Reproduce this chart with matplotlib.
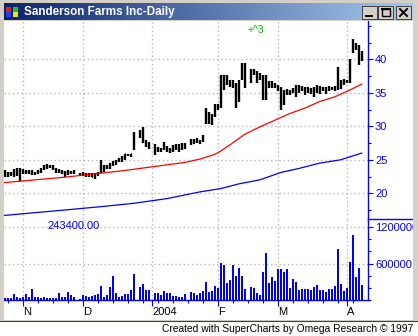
import numpy as np
import pandas as pd
import matplotlib
matplotlib.use('Agg')
import matplotlib.pyplot as plt
from matplotlib.colors import LinearSegmentedColormap
from matplotlib.patches import Rectangle
from matplotlib.ticker import MultipleLocator

plt.rcParams['font.family'] = ['Liberation Sans', 'DejaVu Sans']

W, H = 418, 336  # output size in pixels

# weekdays Oct 24 2003 .. Apr 8 2004; market holidays are None
DATES = pd.bdate_range('2003-10-24', '2004-04-08')

HIGH = [23.5, 23.2, 23.2, 23.6, 23.7, 23.7, 23.6, 23.5, 23.5, 23.5,
        23.2, 23.5, 23.7, 24.2, 24.4, 24.2, 24.2, 23.7, 23.6, 23.5,
        23.4, 23.5, 23.4, 23.5, None, 23.0, 23.2, 23.1, 23.0, 23.1,
        23.0, 23.2, 25.0, 24.2, 24.2, 24.5, 24.8, 25.0, 25.2, 25.5,
        25.9, 25.9, 25.9, 29.2, None, 29.4, 29.9, 27.9, 27.7, None,
        27.3, 26.9, 26.7, 27.6, 27.1, 26.7, 27.2, 27.4, 27.4, 27.5,
        27.5, None, 28.1, 28.1, 28.2, 28.0, 28.7, 32.7, 32.2, 31.9,
        33.3, 33.4, 37.7, 37.7, 37.7, 36.9, 36.9, 36.4, 36.9, 39.4,
        39.4, None, 38.6, 38.5, 38.2, 37.9, 37.7, 37.7, 36.7, 36.7,
        36.4, 36.2, 35.9, 35.4, 35.5, 35.4, 35.7, 36.2, 36.2, 36.0,
        35.9, 35.8, 35.7, 35.9, 36.2, 36.0, 35.9, 35.8, 36.0, 35.9,
        36.0, 38.9, 36.9, 37.0, 36.9, 40.0, 43.1, 42.4, 42.1, 41.3]
LOW = [22.5, 22.5, 22.6, 22.5, 22.6, 21.9, 22.9, 22.9, 22.9, 22.7,
       22.7, 22.9, 23.1, 23.5, 23.6, 23.7, 23.5, 23.1, 23.0, 22.9,
       22.5, 22.7, 22.9, 22.9, None, 22.8, 22.6, 22.5, 22.4, 22.4,
       22.1, 22.6, 23.0, 23.2, 23.6, 23.6, 24.0, 24.2, 24.6, 24.7,
       25.0, 25.5, 25.4, 26.4, None, 28.2, 27.5, 26.9, 26.6, None,
       25.7, 26.2, 26.1, 26.5, 26.2, 26.0, 26.2, 26.4, 26.2, 26.5,
       26.6, None, 27.2, 27.4, 27.5, 27.4, 27.7, 30.4, 30.4, 30.2,
       31.4, 32.4, 32.7, 35.4, 36.2, 35.9, 35.7, 32.7, 33.7, 36.9,
       35.7, None, 36.4, 37.7, 36.4, 36.9, 33.9, 33.9, 35.7, 35.7,
       35.7, 35.2, 32.4, 33.2, 34.7, 34.7, 34.9, 34.4, 34.9, 35.2,
       34.7, 34.9, 34.8, 34.4, 34.9, 34.8, 35.2, 34.8, 35.2, 35.4,
       35.2, 35.4, 35.6, 36.2, 36.4, 36.4, 40.9, 41.4, 39.1, 39.7]
CLOSE = [22.8, 23.1, 23.0, 23.4, 23.5, 23.4, 23.3, 23.2, 23.3, 23.1,
         23.0, 23.3, 23.6, 24.0, 24.2, 24.0, 23.8, 23.4, 23.2, 23.2,
         22.9, 23.1, 23.1, 23.3, None, 22.9, 22.9, 22.7, 22.6, 22.5,
         22.3, 23.0, 24.6, 23.6, 24.0, 24.3, 24.5, 24.8, 25.0, 25.3,
         25.8, 25.7, 25.8, 28.9, None, 28.5, 27.8, 27.2, 27.0, None,
         26.0, 26.5, 26.4, 27.0, 26.6, 26.3, 26.8, 27.0, 26.9, 27.1,
         27.3, None, 27.8, 27.6, 27.9, 27.7, 28.5, 31.0, 31.5, 30.8,
         32.8, 33.0, 36.8, 36.0, 37.0, 36.3, 36.1, 33.5, 36.0, 38.0,
         36.5, None, 38.0, 38.2, 37.5, 37.2, 36.5, 35.0, 36.2, 36.0,
         35.9, 35.5, 33.5, 34.8, 35.0, 34.9, 35.2, 35.8, 35.5, 35.6,
         35.2, 35.3, 35.0, 35.4, 35.8, 35.3, 35.5, 35.2, 35.6, 35.7,
         35.8, 36.3, 36.5, 36.6, 36.6, 39.8, 42.0, 41.9, 40.3, 40.8]
VOLUME = [34000, 34000, 34000, 101000, 50000, 34000, 56000, 101000, 56000, 174000,
          50000, 50000, 34000, 50000, 34000, 34000, 34000, 34000, 118000, 45000,
          50000, 134000, 84000, 50000, None, 17000, 84000, 67000, 45000, 67000,
          84000, 101000, 235000, 50000, 84000, 218000, 403000, 118000, 50000, 67000,
          101000, 101000, 168000, 437000, None, 218000, 269000, 168000, 157000, None,
          118000, 118000, 84000, 151000, 118000, 118000, 67000, 67000, 50000, 50000,
          106000, None, 134000, 118000, 84000, 118000, 151000, 302000, 134000, 151000,
          235000, 202000, 605000, 571000, 286000, 336000, 571000, 403000, 521000, 403000,
          185000, None, 218000, 202000, 118000, 84000, 454000, 773000, 286000, 386000,
          319000, 504000, 504000, 454000, 504000, 202000, 353000, 302000, 168000, 185000,
          185000, 185000, 168000, 218000, 252000, 168000, 168000, 134000, 185000, 185000,
          235000, 840000, 269000, 151000, 202000, 622000, 1075000, 386000, 521000, 252000]

# moving averages, read at a few bar positions
MA_FAST_IDX = [0, 10, 20, 30, 40, 50, 60, 65, 70, 72, 75, 80, 85, 90, 95, 100, 105, 110, 115, 119]
MA_FAST = [21.6, 22.0, 22.4, 22.9, 23.4, 24.0, 24.6, 25.1, 25.8, 26.3, 27.2, 28.8,
           29.9, 30.9, 31.9, 32.7, 33.7, 34.4, 35.4, 36.3]
MA_SLOW_IDX = [0, 20, 32, 43, 54, 65, 72, 78, 85, 92, 98, 105, 112, 119]
MA_SLOW = [16.7, 17.5, 18.0, 18.5, 19.2, 20.2, 20.7, 21.4, 22.0, 23.1, 23.7, 24.5, 25.0, 26.0]

PRICE_TICKS = [20, 25, 30, 35, 40]
VOL_TICKS = [600000, 1200000]
TITLE = 'Sanderson Farms Inc-Daily'
VOL_TEXT = '243400.00'
MARK_TEXT = '+^3'
FOOTER = 'Created with SuperCharts by Omega Research \u00a9 1997'

BLUE = '#0000ff'
GRID = '#b8b8b8'
FACE = '#d4d0c8'


def arr(v):
    return np.array([np.nan if a is None else a for a in v], dtype=float)


high, low, close, vol = arr(HIGH), arr(LOW), arr(CLOSE), arr(VOLUME)
x = np.arange(len(DATES))
ok = ~np.isnan(high)

# month starts (major ticks) and mondays (minor ticks)
month_start = [i for i in range(1, len(DATES)) if DATES[i].month != DATES[i - 1].month]
month_lbl = [str(DATES[i].year) if DATES[i].month == 1 else DATES[i].strftime('%b')[0]
             for i in month_start]
mondays = [i for i in x if DATES[i].dayofweek == 0 and i not in month_start]
tick_shift = 0.2

fig = plt.figure(figsize=(W / 100, H / 100), dpi=100)
fig.patch.set_facecolor(FACE)

# window background, title bar and footer (pixel coordinates)
bg = fig.add_axes([0, 0, 1, 1], zorder=-1)
bg.axis('off')
bg.add_patch(Rectangle((4, 21), 409, 299, fc='white', lw=0))
bg.add_patch(Rectangle((0, 321), W, 15, fc='white', lw=0))
bg.plot([0, W], [320.5, 320.5], color='#404040', lw=0.8)
cmap = LinearSegmentedColormap.from_list('tb', ['#0a246a', '#a6caf0'])
bg.imshow(np.linspace(0, 1, 256)[None, :], cmap=cmap, aspect='auto',
          extent=(4, 414, 20, 3))
for c, (ix, iy) in zip(['#e02020', '#2040e0', '#20c020', '#f0e020'],
                       [(6, 7), (6, 12), (13, 7), (13, 12)]):
    bg.add_patch(Rectangle((ix, iy), 5, 5, fc=c, lw=0))
bg.text(24, 12, TITLE, color='white', fontsize=8.4, fontweight='bold', va='center')
for bx in (362, 378, 396):
    bg.add_patch(Rectangle((bx, 5.5), 15, 13.5, fc=FACE, ec='#404040', lw=0.7))
bg.plot([366, 372], [16, 16], color='black', lw=1.4)
bg.add_patch(Rectangle((382, 8.5), 8, 7.5, fc='none', ec='black', lw=1.0))
bg.plot([382, 390], [9, 9], color='black', lw=1.5)
bg.plot([400, 407], [9, 16], color='black', lw=1.4)
bg.plot([400, 407], [16, 9], color='black', lw=1.4)
bg.text(413, 329, FOOTER, fontsize=7.4, ha='right', va='center', color='black')
bg.set_xlim(0, W)
bg.set_ylim(H, 0)

axp = fig.add_axes([4 / W, 1 - 219 / H, 364 / W, 198 / H])
axv = fig.add_axes([4 / W, 1 - 300 / H, 364 / W, 81 / H], sharex=axp)
for ax in (axp, axv):
    ax.set_facecolor('none')
    for s in ('left', 'top', 'bottom', 'right'):
        ax.spines[s].set_visible(False)
    ax.spines['right'].set_visible(True)
    ax.spines['right'].set_color(BLUE)
    ax.spines['right'].set_linewidth(1.0)
    ax.yaxis.tick_right()
    ax.tick_params(axis='y', which='both', colors=BLUE, labelsize=8,
                   direction='out', width=0.8, pad=1.5)
    ax.tick_params(axis='y', which='major', length=3.5)
    ax.tick_params(axis='y', which='minor', length=2.5)
    ax.grid(axis='both', which='major', color=GRID, ls=(0, (1, 2)), lw=1.0)
    ax.set_axisbelow(True)

# price bars (high-low-close) and moving averages
axp.vlines(x[ok], low[ok], high[ok], color='black', lw=1.7)
axp.hlines(close[ok], x[ok], x[ok] + 0.5, color='black', lw=1.2)
axp.plot(MA_FAST_IDX, MA_FAST, color='#ff0000', lw=0.9)
axp.plot(MA_SLOW_IDX, MA_SLOW, color=BLUE, lw=0.9)
axp.set_ylim(16.16, 45.72)
axp.set_yticks(PRICE_TICKS)
axp.yaxis.set_minor_locator(MultipleLocator(2.5))
axp.tick_params(axis='x', which='both', length=0, labelbottom=False)
axp.text(80.8, 44.4, MARK_TEXT, color='#00c000', fontsize=7.5, va='center')

# volume
axv.bar(x[ok], vol[ok], width=0.67, color=BLUE, lw=0)
axv.set_ylim(0, 1.336e6)
axv.set_yticks(VOL_TICKS, labels=[str(v) for v in VOL_TICKS])
axv.yaxis.set_minor_locator(MultipleLocator(200000))
axv.spines['bottom'].set_visible(True)
axv.spines['bottom'].set_color(BLUE)
axv.spines['bottom'].set_linewidth(1.0)
axv.plot([1, 1 + 45 / 364], [1, 1], transform=axv.transAxes, color=BLUE,
         lw=1.0, clip_on=False)
axv.text(0.118, 0.91, VOL_TEXT, transform=axv.transAxes, color=BLUE,
         fontsize=8, va='center')

axv.set_xticks([i + tick_shift for i in month_start], labels=month_lbl)
axv.set_xticks([i + tick_shift for i in mondays], minor=True)
axv.tick_params(axis='x', which='both', colors=BLUE, labelcolor='black',
                labelsize=8, direction='out', width=0.8, pad=0.5)
axv.tick_params(axis='x', which='major', length=4.3)
axv.tick_params(axis='x', which='minor', length=2.2)
plt.setp(axv.get_xticklabels(), ha='left')
axv.set_xlim(-0.23, 121.1)

# window border drawn over the clipped axis labels
ov = fig.add_axes([0, 0, 1, 1], zorder=5)
ov.axis('off')
ov.set_facecolor('none')
ov.add_patch(Rectangle((413, 0), 5, 320, fc=FACE, lw=0))
ov.add_patch(Rectangle((0, 21), 3.5, 299, fc=FACE, lw=0))
ov.set_xlim(0, W)
ov.set_ylim(H, 0)

fig.savefig('out.png', dpi=100, facecolor=fig.get_facecolor())
